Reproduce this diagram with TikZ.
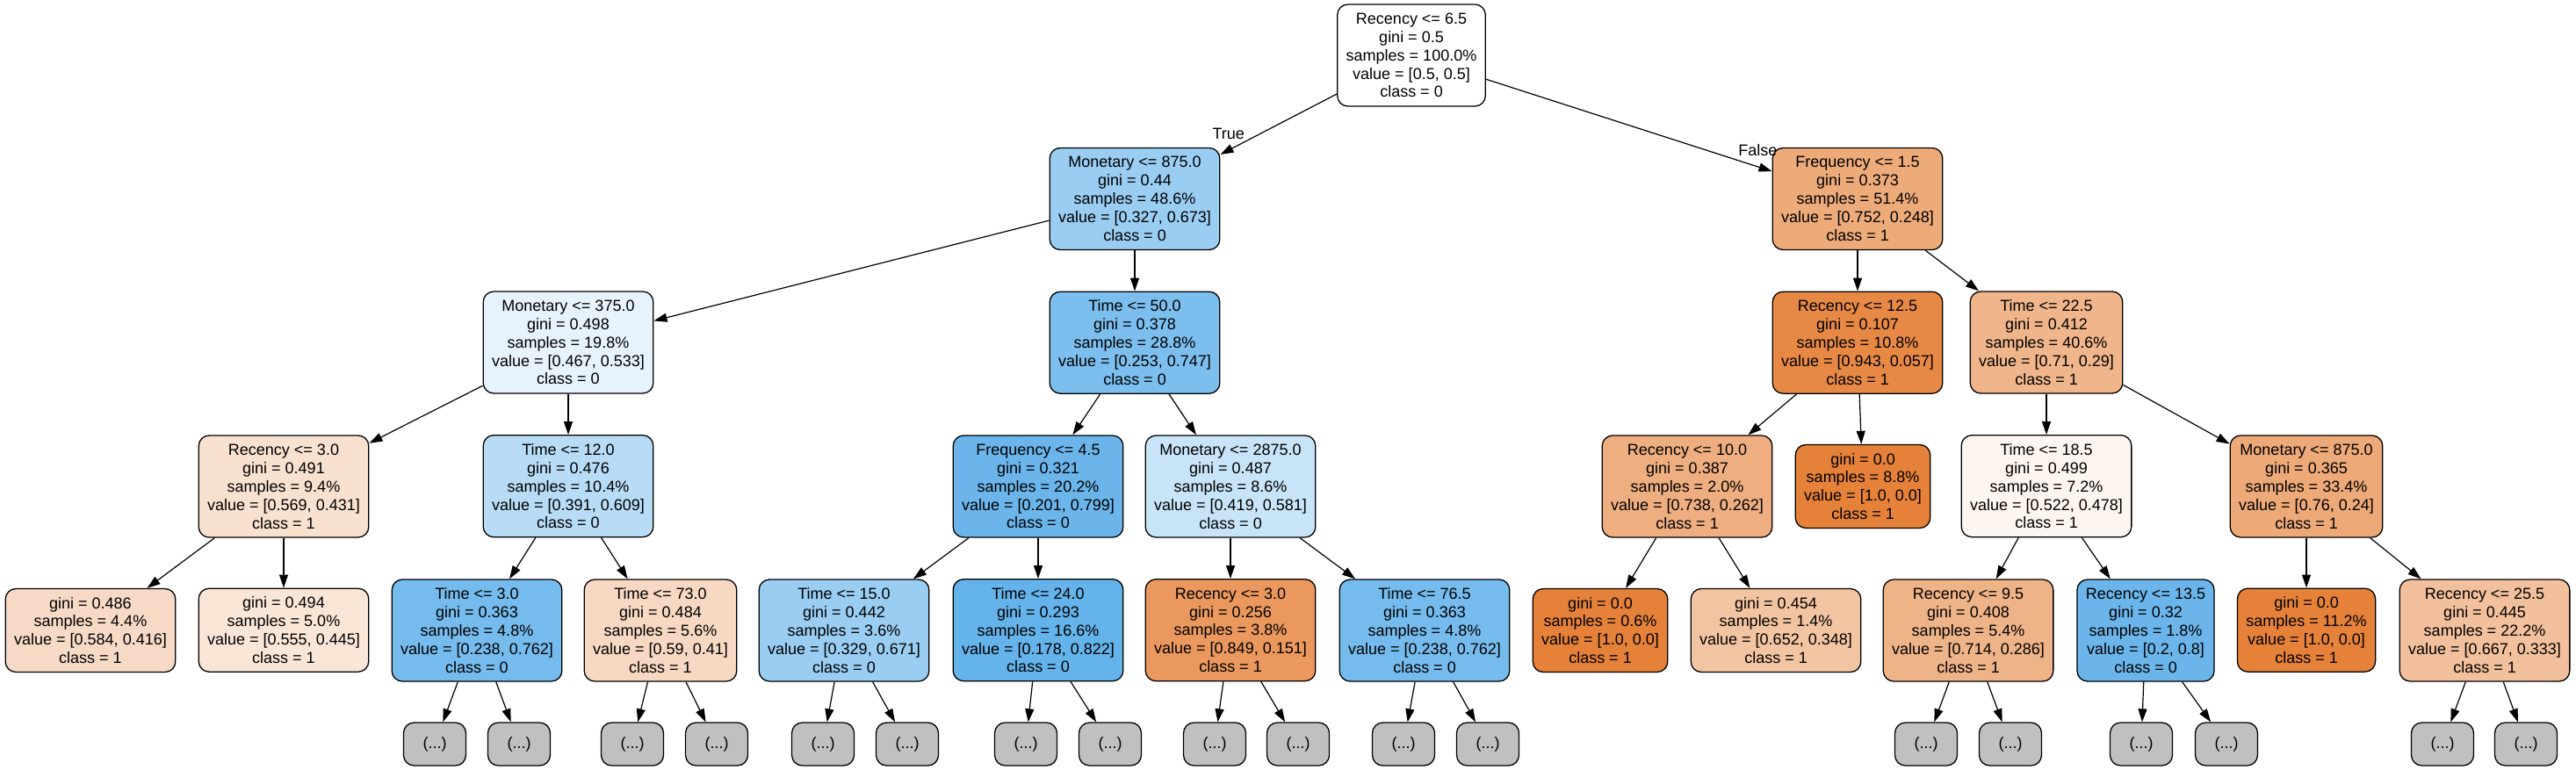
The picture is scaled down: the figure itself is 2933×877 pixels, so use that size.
\documentclass[tikz,border=0pt]{standalone}
\usepackage{fontspec}
\setmainfont{Liberation Sans}
\usetikzlibrary{arrows.meta}

\definecolor{orangecls}{RGB}{229,129,57}
\definecolor{bluecls}{RGB}{57,157,229}
\definecolor{cutgray}{RGB}{192,192,192}
\tikzset{org/.style={fill=orangecls!#1!white},blu/.style={fill=bluecls!#1!white}}

\begin{document}
\begin{tikzpicture}[x=1pt,y=-1pt,->,>={Triangle[length=15pt,width=10pt]},node distance=163.7pt,
    split node/.style={draw,rounded corners=12pt,line width=1.3pt,align=center,inner xsep=10pt,minimum height=116pt,font=\fontsize{18}{20.9}\selectfont},
    leaf node/.style={split node,minimum height=95pt},
    cut node/.style={draw,rounded corners=12pt,line width=1.3pt,fill=cutgray,minimum width=71pt,minimum height=49pt,font=\fontsize{18}{20.9}\selectfont}]
    \useasboundingbox (0,0) rectangle (2933,877);

    % level 0 and 1
    \node[split node] (0) at (1607,63) {Recency <= 6.5\\gini = 0.5\\samples = 100.0\%\\value = [0.5, 0.5]\\class = 0};
    \node[split node,blu=51] (1) at (1292,226.5) {Monetary <= 875.0\\gini = 0.44\\samples = 48.6\%\\value = [0.327, 0.673]\\class = 0};
    \node[split node,org=67] (28) at (2115,226.5) {Frequency <= 1.5\\gini = 0.373\\samples = 51.4\%\\value = [0.752, 0.248]\\class = 1};

    % level 2
    \node[split node,blu=12] (2) at (647,390) {Monetary <= 375.0\\gini = 0.498\\samples = 19.8\%\\value = [0.467, 0.533]\\class = 0};
    \node[split node,blu=66] (13) [below of=1] {Time <= 50.0\\gini = 0.378\\samples = 28.8\%\\value = [0.253, 0.747]\\class = 0};
    \node[split node,org=94] (29) [below of=28] {Recency <= 12.5\\gini = 0.107\\samples = 10.8\%\\value = [0.943, 0.057]\\class = 1};
    \node[split node,org=59] (34) at (2330,390) {Time <= 22.5\\gini = 0.412\\samples = 40.6\%\\value = [0.71, 0.29]\\class = 1};

    % level 3
    \node[split node,org=24] (3) at (323,554) {Recency <= 3.0\\gini = 0.491\\samples = 9.4\%\\value = [0.569, 0.431]\\class = 1};
    \node[split node,blu=36] (6) [below of=2] {Time <= 12.0\\gini = 0.476\\samples = 10.4\%\\value = [0.391, 0.609]\\class = 0};
    \node[split node,blu=75] (14) at (1182,554) {Frequency <= 4.5\\gini = 0.321\\samples = 20.2\%\\value = [0.201, 0.799]\\class = 0};
    \node[split node,blu=28] (21) at (1401,554) {Monetary <= 2875.0\\gini = 0.487\\samples = 8.6\%\\value = [0.419, 0.581]\\class = 0};
    \node[split node,org=64] (30) at (1921,554) {Recency <= 10.0\\gini = 0.387\\samples = 2.0\%\\value = [0.738, 0.262]\\class = 1};
    \node[leaf node,org=100] (33) at (2121,554) {gini = 0.0\\samples = 8.8\%\\value = [1.0, 0.0]\\class = 1};
    \node[split node,org=8] (35) [below of=34] {Time <= 18.5\\gini = 0.499\\samples = 7.2\%\\value = [0.522, 0.478]\\class = 1};
    \node[split node,org=68] (42) at (2626,554) {Monetary <= 875.0\\gini = 0.365\\samples = 33.4\%\\value = [0.76, 0.24]\\class = 1};

    % level 4
    \node[leaf node,org=29] (4) at (103,718) {gini = 0.486\\samples = 4.4\%\\value = [0.584, 0.416]\\class = 1};
    \node[leaf node,org=20] (5) [below of=3] {gini = 0.494\\samples = 5.0\%\\value = [0.555, 0.445]\\class = 1};
    \node[split node,blu=69] (7) at (543,718) {Time <= 3.0\\gini = 0.363\\samples = 4.8\%\\value = [0.238, 0.762]\\class = 0};
    \node[split node,org=31] (10) at (752,718) {Time <= 73.0\\gini = 0.484\\samples = 5.6\%\\value = [0.59, 0.41]\\class = 1};
    \node[split node,blu=51] (15) at (961,718) {Time <= 15.0\\gini = 0.442\\samples = 3.6\%\\value = [0.329, 0.671]\\class = 0};
    \node[split node,blu=78] (18) [below of=14] {Time <= 24.0\\gini = 0.293\\samples = 16.6\%\\value = [0.178, 0.822]\\class = 0};
    \node[split node,org=82] (22) [below of=21] {Recency <= 3.0\\gini = 0.256\\samples = 3.8\%\\value = [0.849, 0.151]\\class = 1};
    \node[split node,blu=69] (25) at (1622,718) {Time <= 76.5\\gini = 0.363\\samples = 4.8\%\\value = [0.238, 0.762]\\class = 0};
    \node[leaf node,org=100] (31) at (1822,718) {gini = 0.0\\samples = 0.6\%\\value = [1.0, 0.0]\\class = 1};
    \node[leaf node,org=47] (32) at (2022,718) {gini = 0.454\\samples = 1.4\%\\value = [0.652, 0.348]\\class = 1};
    \node[split node,org=60] (36) at (2241,718) {Recency <= 9.5\\gini = 0.408\\samples = 5.4\%\\value = [0.714, 0.286]\\class = 1};
    \node[split node,blu=75] (39) at (2443,718) {Recency <= 13.5\\gini = 0.32\\samples = 1.8\%\\value = [0.2, 0.8]\\class = 0};
    \node[leaf node,org=100] (43) [below of=42] {gini = 0.0\\samples = 11.2\%\\value = [1.0, 0.0]\\class = 1};
    \node[split node,org=50] (44) at (2829,718) {Recency <= 25.5\\gini = 0.445\\samples = 22.2\%\\value = [0.667, 0.333]\\class = 1};

    % truncated subtrees
    \node[cut node] (8) at (495,847.5) {(...)};
    \node[cut node] (9) at (591,847.5) {(...)};
    \node[cut node] (11) at (720,847.5) {(...)};
    \node[cut node] (12) at (816,847.5) {(...)};
    \node[cut node] (16) at (937,847.5) {(...)};
    \node[cut node] (17) at (1033,847.5) {(...)};
    \node[cut node] (19) at (1168,847.5) {(...)};
    \node[cut node] (20) at (1264,847.5) {(...)};
    \node[cut node] (23) at (1383,847.5) {(...)};
    \node[cut node] (24) at (1478,847.5) {(...)};
    \node[cut node] (26) at (1598,847.5) {(...)};
    \node[cut node] (27) at (1694,847.5) {(...)};
    \node[cut node] (37) at (2193,847.5) {(...)};
    \node[cut node] (38) at (2289,847.5) {(...)};
    \node[cut node] (40) at (2438,847.5) {(...)};
    \node[cut node] (41) at (2535,847.5) {(...)};
    \node[cut node] (45) at (2781,847.5) {(...)};
    \node[cut node] (46) at (2876,847.5) {(...)};

    \path[line width=1.2pt,every node/.style={font=\fontsize{18}{20.9}\selectfont}]
        (0) edge node [pos=0.93,above,yshift=8pt] {True} (1)
        (0) edge node [pos=0.95,above,yshift=8pt] {False} (28)
        (1) edge (2)
        (1) edge (13)
        (2) edge (3)
        (2) edge (6)
        (3) edge (4)
        (3) edge (5)
        (6) edge (7)
        (6) edge (10)
        (7) edge (8)
        (7) edge (9)
        (10) edge (11)
        (10) edge (12)
        (13) edge (14)
        (13) edge (21)
        (14) edge (15)
        (14) edge (18)
        (15) edge (16)
        (15) edge (17)
        (18) edge (19)
        (18) edge (20)
        (21) edge (22)
        (21) edge (25)
        (22) edge (23)
        (22) edge (24)
        (25) edge (26)
        (25) edge (27)
        (28) edge (29)
        (28) edge (34)
        (29) edge (30)
        (29) edge (33)
        (30) edge (31)
        (30) edge (32)
        (34) edge (35)
        (34) edge (42)
        (35) edge (36)
        (35) edge (39)
        (36) edge (37)
        (36) edge (38)
        (39) edge (40)
        (39) edge (41)
        (42) edge (43)
        (42) edge (44)
        (44) edge (45)
        (44) edge (46);

\end{tikzpicture}
\end{document}
